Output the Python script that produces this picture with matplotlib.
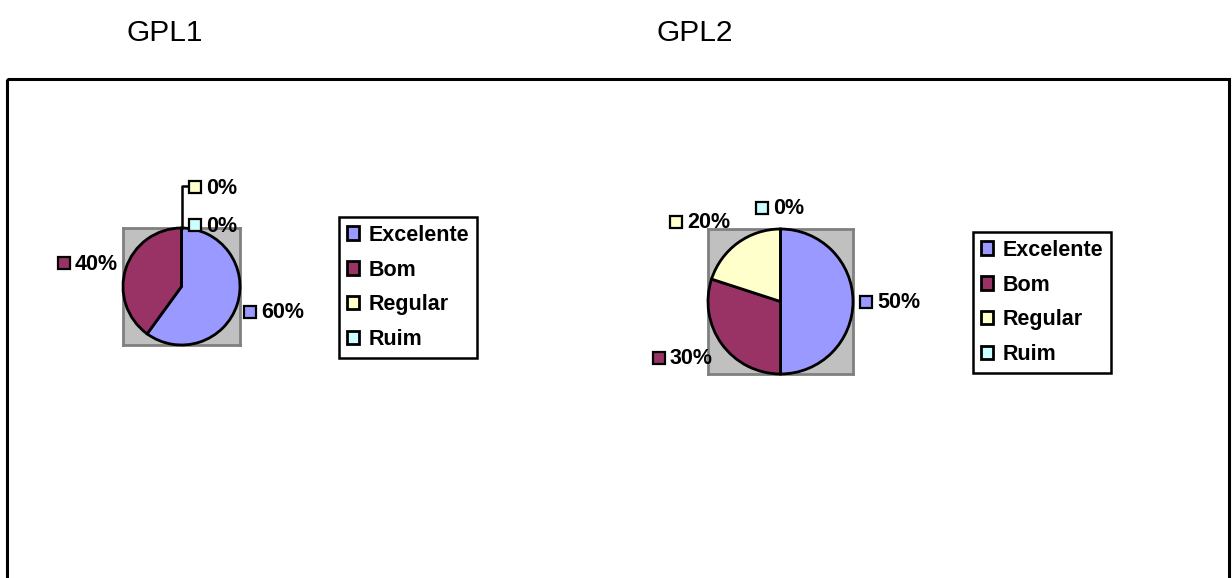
import matplotlib.pyplot as plt
from matplotlib.patches import Rectangle

plt.rcParams['font.family'] = ['Liberation Sans', 'DejaVu Sans']

# dados
categorias = ['Excelente', 'Bom', 'Regular', 'Ruim']
cores = ['#9999FF', '#993366', '#FFFFCC', '#CCFFFF']
gpl1 = [60, 40, 0, 0]
gpl2 = [50, 30, 20, 0]
titulos = ['GPL1', 'GPL2']

W, H = 1232, 578
fig = plt.figure(figsize=(W / 100, H / 100), dpi=100)

# eixo de fundo em pixels (moldura, titulos, rotulos) - por cima das pizzas
bg = fig.add_axes([0, 0, 1, 1], zorder=10)
bg.set_xlim(0, W)
bg.set_ylim(H, 0)
bg.axis('off')
bg.patch.set_alpha(0)
bg.add_patch(Rectangle((7, 79), 1222, 520, fill=False, ec='black', lw=2.2))
bg.text(165, 33, titulos[0], fontsize=21.5, ha='center', va='center')
bg.text(695, 33, titulos[1], fontsize=21.5, ha='center', va='center')

# posicoes (pixels) da caixa de cada grafico e da legenda
pie_box = [(123, 228, 117), (708, 229, 145)]
leg_box = [(339, 217), (973, 232)]
# posicao do quadradinho de cada rotulo
lab_pos = [
    [(250, 312), (64, 263), (195, 187), (195, 225)],
    [(866, 302), (659, 358), (676, 222), (762, 208)],
]
fs = 15.5


def pizza(valores, k):
    x0, y0, s = pie_box[k]
    ax = fig.add_axes([x0 / W, 1 - (y0 + s) / H, s / W, s / H])
    wedges, _ = ax.pie(valores, colors=cores, startangle=90, counterclock=False,
                       radius=1.0, wedgeprops=dict(edgecolor='black', linewidth=2))
    for w in wedges:
        w.set_clip_on(False)
        w.set_zorder(3)
    ax.set_xlim(-1.0, 1.0)
    ax.set_ylim(-1.0, 1.0)
    ax.set_frame_on(True)
    ax.patch.set_visible(True)
    ax.set_facecolor('#C0C0C0')
    ax.set_xticks([])
    ax.set_yticks([])
    for sp in ax.spines.values():
        sp.set_visible(True)
        sp.set_color('#808080')
        sp.set_linewidth(2)

    for v, c, (px, py) in zip(valores, cores, lab_pos[k]):
        bg.plot(px, py, marker='s', ms=8.8, mfc=c, mec='black', mew=1.6)
        bg.text(px + 11, py + 1, f'{v}%', fontsize=fs, fontweight='bold',
                ha='left', va='center')

    lx, ly = leg_box[k]
    leg = fig.legend(wedges, categorias, loc='upper left',
                     bbox_to_anchor=(lx / W, 1 - ly / H), bbox_transform=fig.transFigure,
                     frameon=True, fancybox=False, shadow=False, framealpha=1,
                     prop=dict(size=fs, weight='bold'),
                     handlelength=0.58, handleheight=0.58, handletextpad=0.42,
                     labelspacing=0.64, borderpad=0.36, borderaxespad=0)
    leg.get_frame().set_edgecolor('black')
    leg.get_frame().set_linewidth(1.8)
    return ax


pizza(gpl1, 0)
pizza(gpl2, 1)

# linha de chamada dos rotulos de 0% no GPL1
bg.plot([182, 182, 187], [228, 186, 186], color='black', lw=1.8)

fig.savefig('out.png', dpi=100)
